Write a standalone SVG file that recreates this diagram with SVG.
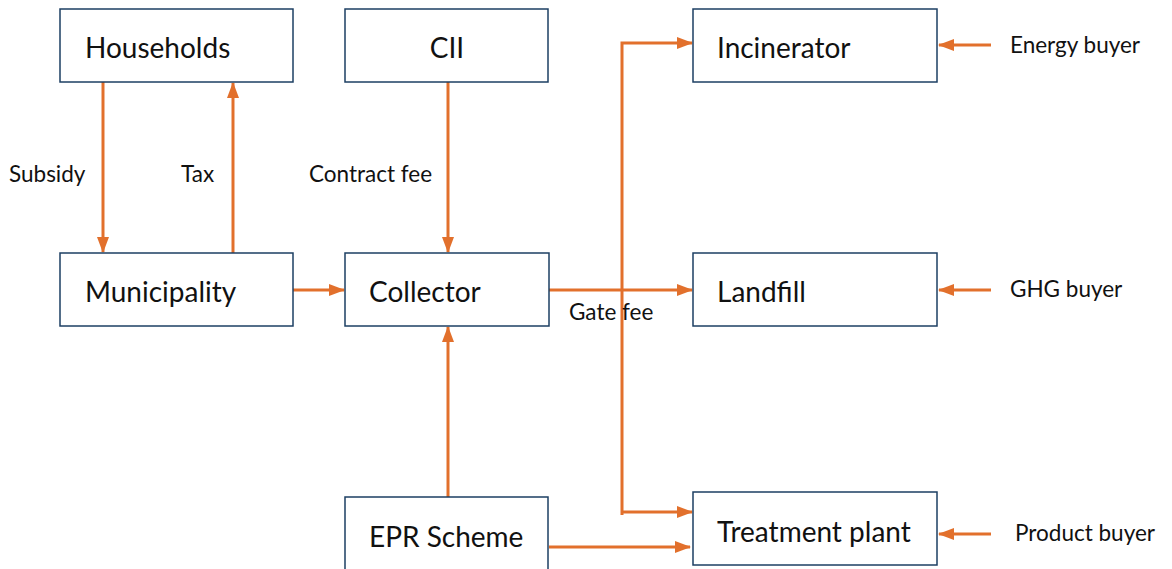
<svg xmlns="http://www.w3.org/2000/svg" width="1172" height="569" viewBox="0 0 1172 569">
  <style>
    .box { fill: #ffffff; stroke: #1d3f63; stroke-width: 1.5; }
    .name { font-family: "Lato", "Liberation Sans", sans-serif; font-size: 28px; fill: #111111; }
    .lbl { font-family: "Lato", "Liberation Sans", sans-serif; font-size: 22.5px; fill: #111111; }
    .flow { fill: none; stroke: #e2702c; stroke-width: 3; marker-end: url(#head); }
  </style>
  <defs>
    <marker id="head" viewBox="0 0 16 12" refX="15" refY="6" markerWidth="16" markerHeight="12" markerUnits="userSpaceOnUse" orient="auto">
      <path d="M0,0 L16,6 L0,12 Z" fill="#e2702c"/>
    </marker>
  </defs>
  <rect width="1172" height="569" fill="#ffffff"/>

  <g id="connectors">
    <!-- Households / Municipality -->
    <path class="flow" d="M103,82 V252"/>
    <path class="flow" d="M233,253 V83"/>
    <!-- Municipality to Collector -->
    <path class="flow" d="M293,290 H344"/>
    <!-- CII to Collector -->
    <path class="flow" d="M448,82 V252"/>
    <!-- EPR Scheme to Collector -->
    <path class="flow" d="M448,497 V327"/>
    <!-- Collector to Landfill -->
    <path class="flow" d="M549,290 H692"/>
    <!-- Distribution bus -->
    <path class="flow" d="M622,515 V43 H692"/>
    <path class="flow" d="M622,512 H692"/>
    <!-- EPR Scheme to Treatment plant -->
    <path class="flow" d="M549,547 H690"/>
    <!-- Buyers -->
    <path class="flow" d="M991,45 H939"/>
    <path class="flow" d="M991,290 H939"/>
    <path class="flow" d="M991,534 H939"/>
  </g>

  <g id="households">
    <rect class="box" x="60" y="9" width="233" height="73"/>
    <text class="name" x="85" y="58">Households</text>
  </g>
  <g id="cii">
    <rect class="box" x="345" y="9" width="203" height="73"/>
    <text class="name" x="447" y="58" text-anchor="middle">CII</text>
  </g>
  <g id="incinerator">
    <rect class="box" x="693" y="9" width="244" height="73"/>
    <text class="name" x="717" y="58">Incinerator</text>
  </g>
  <g id="municipality">
    <rect class="box" x="60" y="253" width="233" height="73"/>
    <text class="name" x="85" y="302">Municipality</text>
  </g>
  <g id="collector">
    <rect class="box" x="345" y="253" width="204" height="73"/>
    <text class="name" x="369" y="302">Collector</text>
  </g>
  <g id="landfill">
    <rect class="box" x="693" y="253" width="244" height="73"/>
    <text class="name" x="717" y="302">Landfill</text>
  </g>
  <g id="epr-scheme">
    <rect class="box" x="345" y="497" width="203" height="80"/>
    <text class="name" x="369" y="547">EPR Scheme</text>
  </g>
  <g id="treatment-plant">
    <rect class="box" x="693" y="492" width="244" height="73"/>
    <text class="name" x="717" y="542">Treatment plant</text>
  </g>

  <g id="labels">
    <text class="lbl" x="9" y="182">Subsidy</text>
    <text class="lbl" x="181" y="182">Tax</text>
    <text class="lbl" x="309" y="182">Contract fee</text>
    <text class="lbl" x="569" y="320">Gate fee</text>
    <text class="lbl" x="1010" y="53">Energy buyer</text>
    <text class="lbl" x="1010" y="297">GHG buyer</text>
    <text class="lbl" x="1015" y="541">Product buyer</text>
  </g>
</svg>
